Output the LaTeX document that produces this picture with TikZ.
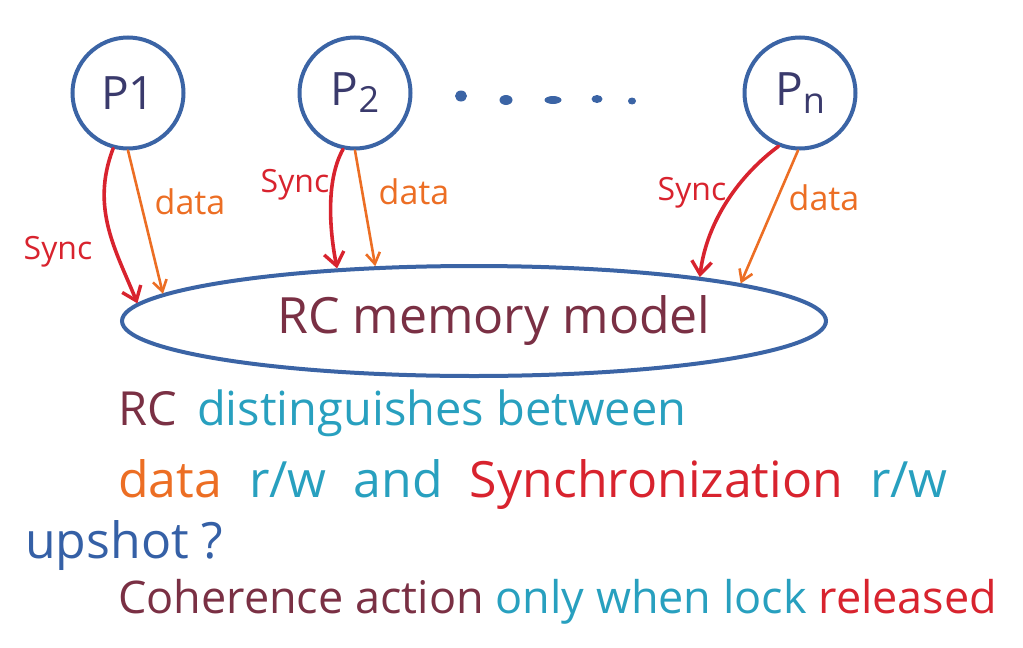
\documentclass[tikz,border=0pt]{standalone}
\usepackage{fontspec}
\setmainfont{Open Sans}
\usetikzlibrary{arrows.meta,shapes.geometric}
\definecolor{cblue}{HTML}{3B64A5}
\definecolor{cnavy}{HTML}{3A3A6C}
\definecolor{cred}{HTML}{D8232E}
\definecolor{corange}{HTML}{EC6E24}
\definecolor{cmaroon}{HTML}{7A3044}
\definecolor{cteal}{HTML}{28A0BF}
\definecolor{cupshot}{HTML}{3560A6}
\begin{document}
\begin{tikzpicture}[x=1pt,y=-1pt,
  proc/.style={circle, draw=cblue, line width=4pt, minimum size=111pt, inner sep=0pt,
    text=cnavy, font=\fontsize{46}{46}\selectfont},
  memnode/.style={ellipse, draw=cblue, line width=4pt, minimum width=704pt, minimum height=110pt,
    inner sep=0pt, text=cmaroon, font=\fontsize{50}{50}\selectfont},
  syncarrow/.style={draw=cred, line width=3.6pt, line cap=round,
    -{Straight Barb[length=13pt,width=20pt,line width=3.4pt]}},
  dataarrow/.style={draw=corange, line width=2.6pt, line cap=round,
    -{Straight Barb[length=11pt,width=14pt,line width=2.6pt]}},
  synclbl/.style={text=cred, inner sep=0pt, font=\fontsize{32}{32}\selectfont},
  datalbl/.style={text=corange, inner sep=0pt, font=\fontsize{34}{34}\selectfont},
  txt/.style={anchor=base west, inner sep=0pt}
]
\useasboundingbox (0,0) rectangle (1023,648);

% processors
\node[proc] (p1) at (128,93) {P1};
\node[proc] (p2) at (355,93) {P\raisebox{-7pt}{\fontsize{36}{36}\selectfont 2}};
\node[proc] (pn) at (800,93) {P\raisebox{-8pt}{\fontsize{36}{36}\selectfont n}};

% dots
\fill[cblue] (461,96) ellipse (6 and 5.5);
\fill[cblue] (506,100) ellipse (6.5 and 5);
\fill[cblue] (553,100) ellipse (8.5 and 4);
\fill[cblue] (597,99) ellipse (5.5 and 4);
\fill[cblue] (632,101) ellipse (4 and 3.5);

% memory model
\node[memnode] (mem) at (474,321) {\hspace*{40pt}RC memory model};

% arrows
\draw[syncarrow] (p1.-105) .. controls +(-23,60) and +(-21,-52) .. (mem.177.7);
\draw[dataarrow] (p1.-90) -- (mem.175);
\draw[syncarrow] (p2.-102) .. controls +(-18,32) and +(-7,-35) .. (mem.159.7);
\draw[dataarrow] (p2.-90) -- (mem.151.9);
\draw[syncarrow] (pn.-112) .. controls +(-38,28) and +(7,-57) .. (mem.11.1);
\draw[dataarrow] (pn.-92) -- (mem.8.9);

% arrow labels
\node[synclbl] (s1) at (58,252) {Sync};
\node[datalbl] (d1) at (190,202) {data};
\node[synclbl] (s2) at (295,185) {Sync};
\node[datalbl] (d2) at (414,192) {data};
\node[synclbl] (sn) at (692,193) {Sync};
\node[datalbl] (dn) at (824,198) {data};

% text lines
\node[txt, font=\fontsize{47}{47}\selectfont] (l1) at (118,425)
  {{\color{cmaroon}RC}\hspace{8pt} {\color{cteal}distinguishes between}};
\node[txt, font=\fontsize{50}{50}\selectfont] (l2) at (118,497)
  {{\color{corange}data}\hspace{14pt} {\color{cteal}r/w\hspace{14pt} and}\hspace{14pt} {\color{cred}Synchronization}\hspace{14pt} {\color{cteal}r/w}};
\node[txt, font=\fontsize{50}{50}\selectfont, text=cupshot] (l3) at (25,558) {upshot ?};
\node[txt, font=\fontsize{45}{45}\selectfont] (l4) at (118,613)
  {{\color{cmaroon}Coherence action} {\color{cteal}only when lock} {\color{cred}released}};
\end{tikzpicture}
\end{document}
